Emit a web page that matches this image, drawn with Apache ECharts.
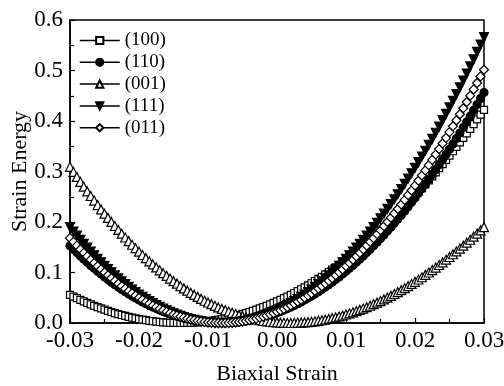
<!DOCTYPE html>
<html>
<head>
<meta charset="utf-8">
<script src="https://cdn.jsdelivr.net/npm/echarts@6/dist/echarts.min.js"></script>
<style>
html,body{margin:0;padding:0;background:#fff;}
#chart{width:504px;height:386px;}
</style>
</head>
<body>
<div id="chart"></div>
<script>
// Biaxial strain (x)
var strain = [
-0.03,-0.0295,-0.029,-0.0285,-0.028,-0.0275,-0.027,-0.0265,-0.026,-0.0255,
-0.025,-0.0245,-0.024,-0.0235,-0.023,-0.0225,-0.022,-0.0215,-0.021,-0.0205,
-0.02,-0.0195,-0.019,-0.0185,-0.018,-0.0175,-0.017,-0.0165,-0.016,-0.0155,
-0.015,-0.0145,-0.014,-0.0135,-0.013,-0.0125,-0.012,-0.0115,-0.011,-0.0105,
-0.01,-0.0095,-0.009,-0.0085,-0.008,-0.0075,-0.007,-0.0065,-0.006,-0.0055,
-0.005,-0.0045,-0.004,-0.0035,-0.003,-0.0025,-0.002,-0.0015,-0.001,-0.0005,
0,0.0005,0.001,0.0015,0.002,0.0025,0.003,0.0035,0.004,0.0045,
0.005,0.0055,0.006,0.0065,0.007,0.0075,0.008,0.0085,0.009,0.0095,
0.01,0.0105,0.011,0.0115,0.012,0.0125,0.013,0.0135,0.014,0.0145,
0.015,0.0155,0.016,0.0165,0.017,0.0175,0.018,0.0185,0.019,0.0195,
0.02,0.0205,0.021,0.0215,0.022,0.0225,0.023,0.0235,0.024,0.0245,
0.025,0.0255,0.026,0.0265,0.027,0.0275,0.028,0.0285,0.029,0.0295,
0.03];

// Strain energy per orientation
var e100 = [
0.0558,0.0524,0.0491,0.0458,0.0427,0.0397,0.0368,0.0341,0.0314,0.0288,
0.0264,0.0240,0.0218,0.0197,0.0177,0.0158,0.0140,0.0123,0.0107,0.0092,
0.0078,0.0066,0.0055,0.0044,0.0035,0.0027,0.0020,0.0014,0.0009,0.0005,
0.0002,0.0001,0,0.0001,0.0002,0.0005,0.0009,0.0014,0.0020,0.0027,
0.0035,0.0044,0.0055,0.0066,0.0078,0.0092,0.0107,0.0123,0.0140,0.0158,
0.0177,0.0197,0.0218,0.0240,0.0264,0.0288,0.0314,0.0341,0.0368,0.0397,
0.0427,0.0458,0.0491,0.0524,0.0558,0.0594,0.0630,0.0668,0.0706,0.0746,
0.0787,0.0829,0.0872,0.0916,0.0961,0.1008,0.1055,0.1104,0.1153,0.1204,
0.1256,0.1309,0.1363,0.1418,0.1474,0.1531,0.1589,0.1649,0.1709,0.1771,
0.1833,0.1897,0.1962,0.2028,0.2095,0.2163,0.2232,0.2303,0.2374,0.2447,
0.2520,0.2595,0.2671,0.2747,0.2825,0.2904,0.2984,0.3066,0.3148,0.3231,
0.3316,0.3401,0.3488,0.3576,0.3665,0.3755,0.3846,0.3938,0.4031,0.4125,
0.4220];

var e110 = [
0.1529,0.1461,0.1394,0.1328,0.1264,0.1202,0.1141,0.1082,0.1024,0.0968,
0.0913,0.0860,0.0809,0.0759,0.0711,0.0664,0.0619,0.0576,0.0534,0.0494,
0.0455,0.0418,0.0382,0.0348,0.0316,0.0285,0.0256,0.0228,0.0202,0.0178,
0.0155,0.0134,0.0114,0.0096,0.0079,0.0064,0.0051,0.0039,0.0028,0.0020,
0.0013,0.0007,0.0003,0.0001,0,0.0001,0.0003,0.0007,0.0013,0.0020,
0.0028,0.0039,0.0051,0.0064,0.0079,0.0096,0.0114,0.0134,0.0155,0.0178,
0.0202,0.0228,0.0256,0.0285,0.0316,0.0348,0.0382,0.0418,0.0455,0.0494,
0.0534,0.0576,0.0619,0.0664,0.0711,0.0759,0.0809,0.0860,0.0913,0.0968,
0.1024,0.1082,0.1141,0.1202,0.1264,0.1328,0.1394,0.1461,0.1529,0.1600,
0.1672,0.1745,0.1820,0.1897,0.1975,0.2055,0.2136,0.2219,0.2304,0.2390,
0.2477,0.2567,0.2658,0.2750,0.2844,0.2940,0.3037,0.3136,0.3236,0.3338,
0.3441,0.3546,0.3653,0.3761,0.3871,0.3982,0.4095,0.4210,0.4326,0.4444,
0.4563];

var e001 = [
0.3092,0.2992,0.2893,0.2795,0.2700,0.2606,0.2515,0.2425,0.2336,0.2250,
0.2165,0.2082,0.2001,0.1921,0.1844,0.1768,0.1693,0.1621,0.1550,0.1481,
0.1413,0.1347,0.1283,0.1221,0.1160,0.1101,0.1043,0.0987,0.0933,0.0880,
0.0829,0.0780,0.0732,0.0686,0.0641,0.0598,0.0557,0.0517,0.0478,0.0441,
0.0406,0.0372,0.0340,0.0309,0.0280,0.0252,0.0226,0.0201,0.0178,0.0156,
0.0136,0.0117,0.0099,0.0083,0.0069,0.0056,0.0044,0.0034,0.0025,0.0017,
0.0011,0.0006,0.0003,0.0001,0,0.0001,0.0003,0.0006,0.0011,0.0017,
0.0024,0.0033,0.0043,0.0054,0.0066,0.0080,0.0095,0.0111,0.0129,0.0148,
0.0168,0.0189,0.0211,0.0235,0.0260,0.0286,0.0313,0.0342,0.0372,0.0402,
0.0434,0.0467,0.0502,0.0537,0.0574,0.0611,0.0650,0.0690,0.0731,0.0773,
0.0816,0.0861,0.0906,0.0953,0.1000,0.1049,0.1098,0.1149,0.1200,0.1253,
0.1307,0.1361,0.1417,0.1474,0.1531,0.1590,0.1649,0.1710,0.1771,0.1834,
0.1897];

var e111 = [
0.1897,0.1812,0.1729,0.1647,0.1568,0.1491,0.1415,0.1342,0.1270,0.1201,
0.1133,0.1067,0.1004,0.0942,0.0882,0.0824,0.0768,0.0714,0.0662,0.0613,
0.0564,0.0518,0.0474,0.0432,0.0392,0.0354,0.0318,0.0283,0.0251,0.0221,
0.0192,0.0166,0.0141,0.0119,0.0098,0.0079,0.0063,0.0048,0.0035,0.0025,
0.0016,0.0009,0.0004,0.0001,0,0.0001,0.0004,0.0009,0.0016,0.0025,
0.0035,0.0048,0.0063,0.0079,0.0098,0.0119,0.0141,0.0166,0.0192,0.0221,
0.0251,0.0283,0.0318,0.0354,0.0392,0.0432,0.0474,0.0518,0.0564,0.0613,
0.0662,0.0714,0.0768,0.0824,0.0882,0.0942,0.1004,0.1067,0.1133,0.1201,
0.1270,0.1342,0.1415,0.1491,0.1568,0.1647,0.1729,0.1812,0.1897,0.1985,
0.2074,0.2165,0.2258,0.2353,0.2450,0.2549,0.2650,0.2753,0.2858,0.2965,
0.3073,0.3184,0.3297,0.3411,0.3528,0.3647,0.3767,0.3890,0.4014,0.4141,
0.4269,0.4399,0.4532,0.4666,0.4802,0.4940,0.5080,0.5222,0.5367,0.5513,
0.5660];

var e011 = [
0.1680,0.1605,0.1531,0.1459,0.1389,0.1320,0.1253,0.1188,0.1125,0.1063,
0.1003,0.0945,0.0889,0.0834,0.0781,0.0730,0.0681,0.0633,0.0587,0.0543,
0.0500,0.0459,0.0420,0.0383,0.0347,0.0313,0.0281,0.0251,0.0222,0.0195,
0.0170,0.0147,0.0125,0.0105,0.0087,0.0070,0.0056,0.0043,0.0031,0.0022,
0.0014,0.0008,0.0003,0.0001,0,0.0001,0.0003,0.0008,0.0014,0.0022,
0.0031,0.0043,0.0056,0.0070,0.0087,0.0105,0.0125,0.0147,0.0170,0.0195,
0.0222,0.0251,0.0281,0.0313,0.0347,0.0383,0.0420,0.0459,0.0500,0.0543,
0.0587,0.0633,0.0681,0.0730,0.0781,0.0834,0.0889,0.0945,0.1003,0.1063,
0.1125,0.1188,0.1253,0.1320,0.1389,0.1459,0.1531,0.1605,0.1680,0.1758,
0.1837,0.1917,0.2000,0.2084,0.2170,0.2258,0.2347,0.2438,0.2531,0.2626,
0.2722,0.2820,0.2920,0.3022,0.3125,0.3230,0.3337,0.3445,0.3555,0.3667,
0.3781,0.3897,0.4014,0.4133,0.4253,0.4376,0.4500,0.4626,0.4753,0.4883,
0.5014];

var seriesNames = ['(100)', '(110)', '(001)', '(111)', '(011)'];
var xTicks = [-0.03, -0.02, -0.01, 0.00, 0.01, 0.02, 0.03];
var yTicks = [0.0, 0.1, 0.2, 0.3, 0.4, 0.5, 0.6];

var FONT = '"Liberation Serif", "Times New Roman", serif';

function pairs(arr) { return strain.map(function (x, i) { return [x, arr[i]]; }); }

var styles = [
  { symbol: 'rect', size: 7, fill: '#fff' },
  { symbol: 'circle', size: 8, fill: '#000' },
  { symbol: 'triangle', size: 9, fill: '#fff' },
  { symbol: 'path://M0,0L10,0L5,9Z', size: 9, fill: '#000' },
  { symbol: 'diamond', size: 9, fill: '#fff' }
];
var dataSets = [e100, e110, e001, e111, e011];

var series = seriesNames.map(function (name, k) {
  var s = styles[k];
  return {
    name: name,
    type: 'line',
    data: pairs(dataSets[k]),
    symbol: s.symbol,
    symbolSize: s.size,
    showAllSymbol: true,
    lineStyle: { color: '#000', width: 1 },
    itemStyle: { color: s.fill, borderColor: '#000', borderWidth: 1.2 },
    emphasis: { disabled: true },
    z: 2 + k
  };
});

var chart = echarts.init(document.getElementById('chart'), null, { renderer: 'canvas' });
chart.setOption({
  animation: false,
  backgroundColor: '#fff',
  grid: { left: 70, right: 20, top: 20, bottom: 63, show: true, borderColor: '#000', borderWidth: 1.5,
          containLabel: false, outerBoundsMode: 'none' },
  legend: {
    orient: 'vertical',
    left: 79,
    top: 31,
    padding: 0,
    itemWidth: 40,
    itemHeight: 9,
    itemGap: 2.8,
    data: seriesNames,
    textStyle: { fontFamily: FONT, fontSize: 19, color: '#000', lineHeight: 18 },
    lineStyle: { width: 1.5 }
  },
  xAxis: {
    type: 'value',
    min: xTicks[0],
    max: xTicks[xTicks.length - 1],
    interval: 0.01,
    name: 'Biaxial Strain',
    nameLocation: 'middle',
    nameGap: 40,
    nameMoveOverlap: false,
    nameTextStyle: { fontFamily: FONT, fontSize: 22, color: '#000' },
    axisLine: { show: true, onZero: false, lineStyle: { color: '#000', width: 1.5 } },
    axisTick: { show: true, inside: true, length: 5, lineStyle: { color: '#000', width: 1.2 } },
    minorTick: { show: true, splitNumber: 2, length: 4, lineStyle: { color: '#000', width: 1.2 } },
    axisLabel: { fontFamily: FONT, fontSize: 23, color: '#000', margin: 6,
      formatter: function (v) { return v.toFixed(2); } },
    splitLine: { show: false }
  },
  yAxis: {
    type: 'value',
    min: yTicks[0],
    max: yTicks[yTicks.length - 1],
    interval: 0.1,
    name: 'Strain Energy',
    nameLocation: 'middle',
    nameGap: 39,
    nameMoveOverlap: false,
    nameTextStyle: { fontFamily: FONT, fontSize: 22, color: '#000' },
    axisLine: { show: true, onZero: false, lineStyle: { color: '#000', width: 1.5 } },
    axisTick: { show: true, inside: true, length: 5, lineStyle: { color: '#000', width: 1.2 } },
    minorTick: { show: true, splitNumber: 2, length: 4, lineStyle: { color: '#000', width: 1.2 } },
    axisLabel: { fontFamily: FONT, fontSize: 23, color: '#000', margin: 7,
      formatter: function (v) { return v.toFixed(1); } },
    splitLine: { show: false }
  },
  series: series
});
</script>
</body>
</html>
